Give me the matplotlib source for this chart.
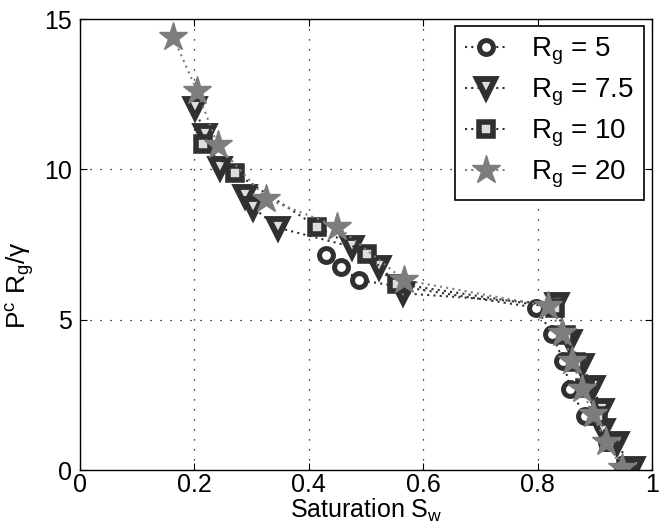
import numpy as np
import matplotlib.pyplot as plt

plt.rcParams['font.family'] = ['Liberation Sans', 'DejaVu Sans']
plt.rcParams['mathtext.fontset'] = 'custom'
plt.rcParams['mathtext.rm'] = 'Liberation Sans'
plt.rcParams['mathtext.it'] = 'Liberation Sans'

# R_g = 5
sw_5 = [0.431, 0.457, 0.487, 0.798, 0.825, 0.845, 0.857, 0.883, 0.921, 0.95]
pc_5 = [7.15, 6.75, 6.32, 5.40, 4.52, 3.64, 2.68, 1.80, 0.92, 0.05]
# R_g = 7.5
sw_75 = [0.201, 0.219, 0.245, 0.288, 0.303, 0.346, 0.475, 0.522, 0.565,
         0.834, 0.856, 0.877, 0.897, 0.912, 0.915, 0.938, 0.967]
pc_75 = [12.05, 11.14, 10.05, 9.12, 8.73, 8.06, 7.43, 6.76, 5.88,
         5.52, 4.30, 3.49, 2.77, 2.00, 1.33, 0.89, 0.06]
# R_g = 10
sw_10 = [0.216, 0.271, 0.415, 0.501, 0.554, 0.83, 0.85, 0.868, 0.883, 0.905, 0.924, 0.955]
pc_10 = [10.85, 9.88, 8.09, 7.20, 6.20, 5.40, 4.50, 3.60, 2.72, 1.80, 0.94, 0.05]
# R_g = 20
sw_20 = [0.163, 0.205, 0.241, 0.326, 0.45, 0.567, 0.818, 0.843, 0.861, 0.878, 0.896, 0.92, 0.948]
pc_20 = [14.4, 12.6, 10.8, 9.02, 8.10, 6.32, 5.45, 4.55, 3.62, 2.70, 1.85, 0.92, 0.06]

labels = ['R$_\\mathrm{g}$ = 5', 'R$_\\mathrm{g}$ = 7.5',
          'R$_\\mathrm{g}$ = 10', 'R$_\\mathrm{g}$ = 20']

dark = '#303030'
gray = '#7d7d7d'

fig = plt.figure(figsize=(6.66, 5.32), dpi=100)
ax = fig.add_axes([0.12, 0.1165, 0.859, 0.8475])

ax.plot(sw_5, pc_5, ls=(0, (1, 2)), lw=1.5, color=dark, marker='o', ms=10,
        mfc='white', mec=dark, mew=3.6, label=labels[0])
ax.plot(sw_75, pc_75, ls=(0, (1, 2)), lw=1.5, color=dark, marker='v', ms=13,
        mfc='#dddddd', mec=dark, mew=4.2, label=labels[1])
ax.plot(sw_10, pc_10, ls=(0, (1, 2)), lw=1.5, color=dark, marker='s', ms=10,
        mfc='#dddddd', mec=dark, mew=4.0, label=labels[2])
ax.plot(sw_20, pc_20, ls=(0, (1, 2)), lw=1.5, color=gray, marker='*', ms=21,
        mfc=gray, mec=gray, mew=1, label=labels[3])

ax.set_xlim(0, 1)
ax.set_ylim(0, 15)
ax.set_xticks([0, 0.2, 0.4, 0.6, 0.8, 1])
ax.set_xticklabels(['0', '0.2', '0.4', '0.6', '0.8', '1'])
ax.set_yticks([0, 5, 10, 15])
ax.tick_params(direction='in', labelsize=18, length=5, top=True, right=True)
ax.tick_params(axis='x', pad=2)
ax.tick_params(axis='y', pad=6)
ax.grid(True, ls=(0, (1, 7)), color='black', lw=0.9)
for s in ax.spines.values():
    s.set_linewidth(1.0)

ax.set_xlabel('Saturation S$_\\mathrm{w}$', fontsize=18, labelpad=0)
ax.set_ylabel('P$^\\mathrm{c}$ R$_\\mathrm{g}$/$\\gamma$', fontsize=19)
ax.yaxis.set_label_coords(-0.075, 0.41)

leg = ax.legend(loc='upper right', fontsize=20, frameon=True, fancybox=False,
                edgecolor='black', framealpha=1, handlelength=1.5,
                handletextpad=0.9, labelspacing=0.35, borderpad=0.35,
                borderaxespad=0, bbox_to_anchor=(0.986, 0.984))
leg.get_frame().set_linewidth(1.2)

fig.savefig('out.png', dpi=100)
